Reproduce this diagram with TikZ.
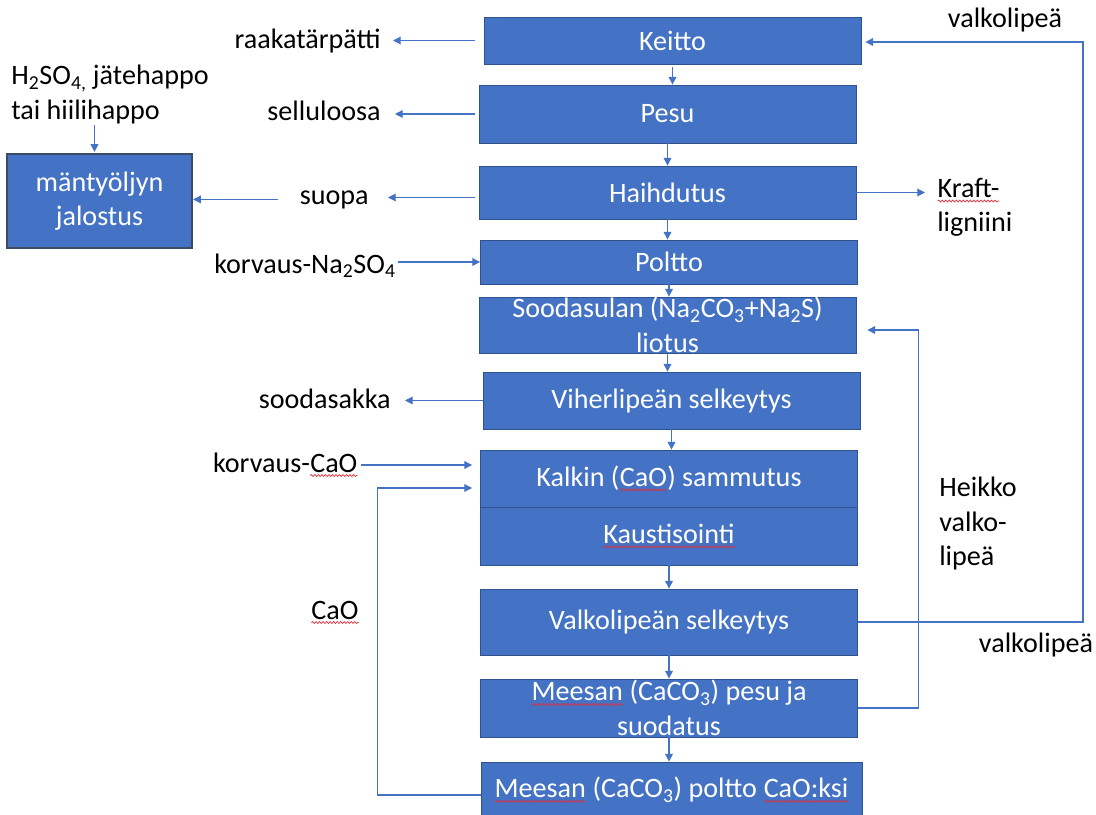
\documentclass[tikz,border=0pt]{standalone}
\usepackage{fontspec}
\setmainfont{Carlito}
\usetikzlibrary{arrows.meta}
\usetikzlibrary{decorations.pathmorphing}

\definecolor{boxblue}{HTML}{4472C4}
\definecolor{boxedge}{HTML}{2F528F}
\definecolor{mbedge}{HTML}{3E4C63}
\definecolor{flowblue}{HTML}{4472C4}
\definecolor{spellred}{HTML}{E0303A}

\newdimen\px \px=0.025cm
\newcommand{\spell}[1]{\tikz[baseline=(sp.base)]{\node[inner sep=0pt, outer sep=0pt, minimum width=0pt, minimum height=0pt, draw=none, fill=none, anchor=base] (sp) {#1};
  \draw[spellred, line width=0.5pt, decorate, decoration={snake, amplitude=0.7pt, segment length=2.5pt}] ([yshift=-2.5pt]sp.base west) -- ([yshift=-2.5pt]sp.base east);}}

\begin{document}
\begin{tikzpicture}[x=0.025cm, y=-0.025cm,
  font=\fontsize{20}{24.5}\selectfont,
  vaihe/.style={rectangle, draw=boxedge, line width=0.6pt, fill=boxblue, text=white, minimum width=377\px, inner sep=0pt, align=center},
  teksti/.style={inner sep=0pt, align=left},
  virta/.style={draw=flowblue, line width=0.8pt, -{Triangle[length=5.5pt,width=5.5pt]}}]
\useasboundingbox (0,0) rectangle (1096,814);

% main line
\node[vaihe, minimum height=47\px] (keitto) at (672.5,40.5) {Keitto};
\node[vaihe, minimum height=58\px] (pesu) at (667.5,114) {Pesu};
\node[vaihe, minimum height=53\px] (haihdutus) at (667.5,192.5) {Haihdutus};
\node[vaihe, minimum height=44\px] (poltto) at (669,262) {Poltto};
\node[vaihe, minimum height=56\px] (liotus) at (667.5,325) {Soodasulan (Na\textsubscript{2}CO\textsubscript{3}+Na\textsubscript{2}S)\\liotus};
\node[vaihe, minimum height=57\px] (viher) at (671.5,400.5) {Viherlipeän selkeytys};
\node[vaihe, minimum height=57\px] (kalkin) at (669,478.5) {Kalkin (\spell{CaO}) sammutus};
\node[vaihe, minimum height=58\px] (kaustis) at (669,536) {\spell{Kaustisointi}};
\node[vaihe, minimum height=66\px] (valko) at (669,622) {Valkolipeän selkeytys};
\node[vaihe, minimum height=58\px] (meesanpesu) at (669,708) {\spell{Meesan} (CaCO\textsubscript{3}) pesu ja\\suodatus};
\node[vaihe, minimum width=381\px, minimum height=56\px] (meesanpoltto) at (671.5,790) {\spell{Meesan} (CaCO\textsubscript{3}) poltto \spell{CaO:ksi}};

\node[vaihe, minimum width=185\px, minimum height=94\px, draw=mbedge, line width=1.6pt] (mantyoljy) at (99.5,201) {mäntyöljyn\\jalostus};

% labels
\node[teksti, anchor=base east] (raaka) at (381,49) {raakatärpätti};
\node[teksti, anchor=base east] (sellu) at (381,121) {selluloosa};
\node[teksti, anchor=base east] (suopa) at (369,204) {suopa};
\node[teksti, anchor=west] (happo) at (11,94.5) {H\textsubscript{2}SO\textsubscript{4,} jätehappo\\tai hiilihappo};
\node[teksti, anchor=west] (kraft) at (937,207.5) {\spell{Kraft-}\\ligniini};
\node[teksti, anchor=base east] (natrium) at (396,273) {korvaus-Na\textsubscript{2}SO\textsubscript{4}};
\node[teksti, anchor=base east] (soodasakka) at (391,408) {soodasakka};
\node[teksti, anchor=base east] (kalkki) at (358,472) {korvaus-\spell{CaO}};
\node[teksti, anchor=base] (cao) at (335,619) {\spell{CaO}};
\node[teksti, anchor=base] (valkoyla) at (1005,28) {valkolipeä};
\node[teksti, anchor=base] (valkoala) at (1036,652) {valkolipeä};
\node[teksti, anchor=west] (heikko) at (939,523.5) {Heikko\\valko-\\lipeä};

% flow down
\draw[virta, shorten <=3\px] (keitto.south) -- (keitto.south |- pesu.north);
\draw[virta] (pesu.south) -- (pesu.south |- haihdutus.north);
\draw[virta] (haihdutus.south) -- (haihdutus.south |- poltto.north);
\draw[virta] (poltto.south) -- (poltto.south |- liotus.north);
\draw[virta] (liotus.south) -- (liotus.south |- viher.north);
\draw[virta] (viher.south) -- (viher.south |- kalkin.north);
\draw[virta] (kaustis.south) -- (kaustis.south |- valko.north);
\draw[virta] (valko.south) -- (valko.south |- meesanpesu.north);
\draw[virta] (meesanpesu.south) -- (meesanpesu.south |- meesanpoltto.north);

% side streams
\draw[virta, shorten <=9\px, shorten >=12\px] (keitto.west) -- (keitto.west -| raaka.east);
\draw[virta, shorten <=4\px, shorten >=14\px] (pesu.west) -- (pesu.west -| sellu.east);
\draw[virta, shorten <=4\px, shorten >=19\px] ([yshift=-5\px]haihdutus.west) -- ([yshift=-5\px]haihdutus.west -| suopa.east);
\draw[virta, shorten <=22\px] (suopa.west) -- (suopa.west -| mantyoljy.east);
\draw[virta, shorten <=1\px, shorten >=1\px] ([xshift=-5\px]mantyoljy.north |- happo.south) -- ([xshift=-5\px]mantyoljy.north);
\draw[virta, shorten >=12\px] (haihdutus.east) -- (haihdutus.east -| kraft.west);
\draw[virta, shorten <=2\px] (natrium.east |- poltto.west) -- (poltto.west);
\draw[virta, shorten >=14\px] (viher.west) -- (viher.west -| soodasakka.east);
\draw[virta, shorten <=3\px, shorten >=8\px] ([yshift=13.5\px]kalkin.west -| kalkki.east) -- ([yshift=13.5\px]kalkin.west);

% returns
\draw[virta, shorten >=8\px] ([yshift=-5\px]meesanpoltto.west) -- ++(-103,0) |- ([yshift=-9.5\px]kalkin.west);
\draw[virta, shorten >=4\px] (valko.east) -- ++(225,0) |- ([yshift=-1.5\px]keitto.east);
\draw[virta, shorten >=11\px] (meesanpesu.east) -- ++(61,0) |- ([yshift=-5\px]liotus.east);
\end{tikzpicture}
\end{document}
